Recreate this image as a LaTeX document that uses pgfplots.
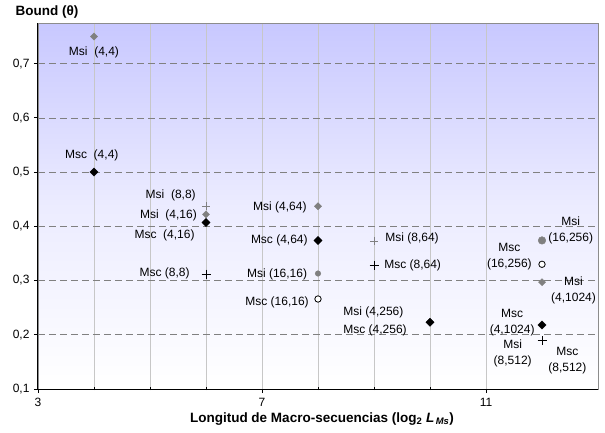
\documentclass[border=0pt]{standalone}
\usepackage{fontspec}
\setmainfont{Liberation Sans}
\usepackage{pgfplots}
\pgfplotsset{compat=1.18}
\definecolor{bgtop}{RGB}{200,200,255}
\definecolor{msigray}{RGB}{128,128,128}
\begin{document}
\begin{tikzpicture}
\useasboundingbox (-38pt,-43pt) rectangle (567pt,389pt);
\begin{axis}[
  at={(0pt,0pt)}, anchor=origin,
  scale only axis, width=560pt, height=366pt,
  xmin=3, xmax=13, ymin=0.1, ymax=0.775,
  xtick={3,7,11}, ytick={0.1,0.2,...,0.7},
  minor x tick num=3,
  xmajorgrids, xminorgrids, ymajorgrids,
  major grid style={color=black!22, line width=0.6pt},
  minor grid style={color=black!22, line width=0.6pt},
  y grid style={dashed, color=black!50, line width=0.6pt, dash pattern=on 7pt off 4pt},
  minor tick length=3pt,
  minor x tick style={yshift=2pt},
  major tick length=4pt,
  tick align=outside,
  xtick pos=bottom, ytick pos=left,
  tick style={black, line width=0.8pt},
  axis line style={black!45, line width=0.8pt},
  axis background/.style={top color=bgtop, bottom color=white, middle color=bgtop!35},
  /pgf/number format/use comma,
  /pgf/number format/fixed,
  /pgf/number format/precision=1,
  /pgf/number format/assume math mode=true,
  tick label style={font=\fontsize{12}{13}\selectfont},
  yticklabel style={xshift=-1pt},
  xticklabel style={yshift=-2pt},
  clip=false,
]
% Msi diamonds (gray)
\addplot[only marks, mark=square*, mark size=2.5pt, mark options={rotate=45}, color=msigray, fill=msigray] coordinates {
 (4,0.750) (6,0.422) (8,0.437) (10,0.223) (12,0.297)};
% Msi plus (gray)
\addplot[only marks, mark=+, mark size=4.2pt, color=msigray, line width=0.8pt] coordinates {
 (6,0.437) (9,0.373) (12,0.189)};
% Msi circles (gray)
\addplot[only marks, mark=*, mark size=2.8pt, color=msigray] coordinates {(8,0.313)};
\addplot[only marks, mark=*, mark size=3.8pt, color=msigray] coordinates {(12,0.374)};
% Msc diamonds (black)
\addplot[only marks, mark=square*, mark size=2.9pt, mark options={rotate=45}, color=black] coordinates {
 (4,0.500) (6,0.407) (8,0.374) (10,0.223) (12,0.218)};
% Msc plus (black)
\addplot[only marks, mark=+, mark size=4.5pt, color=black, line width=0.9pt] coordinates {
 (6,0.312) (9,0.328) (12,0.189)};
% Msc open circles
\addplot[only marks, mark=*, mark size=3.2pt, color=black, line width=0.8pt, mark options={fill=white}] coordinates {
 (8,0.266) (12,0.330)};
% axis lines black on left and bottom
\draw[black, line width=1pt] (rel axis cs:0,0) -- (rel axis cs:0,1);
\draw[black, line width=1pt] (rel axis cs:0,0) -- (rel axis cs:1,0);
% labels
\begin{scope}[every node/.style={font=\fontsize{12}{16}\selectfont, inner sep=0pt, align=center}]
\node at (axis cs:4,0.720) {Msi\ \ (4,4)};
\node at (axis cs:3.96,0.531) {Msc\ \ (4,4)};
\node[anchor=east] at (axis cs:5.82,0.457) {Msi\ \ (8,8)};
\node[anchor=east] at (axis cs:5.84,0.420) {Msi\ \ (4,16)};
\node[anchor=east] at (axis cs:5.80,0.384) {Msc\ \ (4,16)};
\node[anchor=east] at (axis cs:5.71,0.314) {Msc (8,8)};
\node[anchor=west] at (axis cs:6.84,0.435) {Msi (4,64)};
\node[anchor=west] at (axis cs:6.80,0.374) {Msc (4,64)};
\node[anchor=west] at (axis cs:6.73,0.312) {Msi (16,16)};
\node[anchor=west] at (axis cs:6.70,0.260) {Msc (16,16)};
\node[anchor=west] at (axis cs:9.20,0.378) {Msi (8,64)};
\node[anchor=west] at (axis cs:9.18,0.328) {Msc (8,64)};
\node[anchor=west] at (axis cs:8.45,0.242) {Msi (4,256)};
\node[anchor=west] at (axis cs:8.45,0.209) {Msc (4,256)};
\node[anchor=west] at (axis cs:12.11,0.393) {Msi\\(16,256)};
\node[anchor=east] at (axis cs:11.82,0.345) {Msc\\(16,256)};
\node[anchor=west] at (axis cs:12.16,0.282) {Msi\\(4,1024)};
\node[anchor=east] at (axis cs:11.87,0.223) {Msc\\(4,1024)};
\node[anchor=east] at (axis cs:11.82,0.166) {Msi\\(8,512)};
\node[anchor=west] at (axis cs:12.11,0.153) {Msc\\(8,512)};
\end{scope}
\end{axis}
\node[anchor=west, font=\fontsize{13.5}{15}\selectfont\bfseries] at (-26pt,377pt) {Bound (θ)};
\node[font=\fontsize{13.5}{15}\selectfont\bfseries] at (284pt,-30pt) {Longitud de Macro-secuencias (log\textsubscript{2} \textit{L}\textsubscript{\,\textit{Ms}})};
\end{tikzpicture}
\end{document}
